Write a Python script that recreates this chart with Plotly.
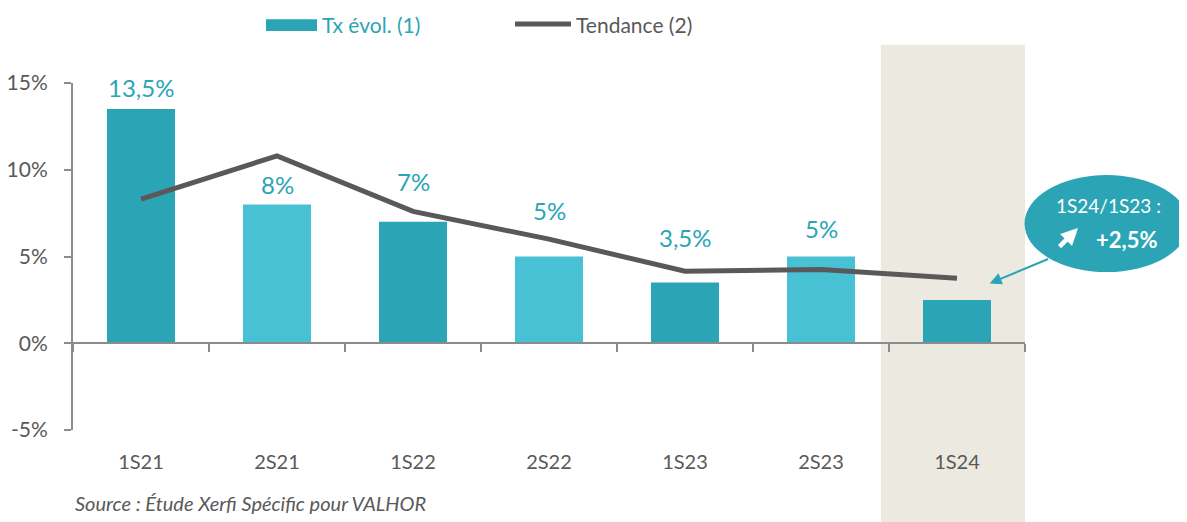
import plotly.graph_objects as go

categories = ["1S21", "2S21", "1S22", "2S22", "1S23", "2S23", "1S24"]
tx_evol = [13.5, 8, 7, 5, 3.5, 5, 2.5]
tendance = [8.3, 10.8, 7.6, 6.0, 4.15, 4.25, 3.75]
y_ticks = [-5, 0, 5, 10, 15]
y_ticktext = ["-5%", "0%", "5%", "10%", "15%"]

# styling (not data)
bar_colors = ["#2BA5B5", "#48C1D4", "#2BA5B5", "#48C1D4", "#2BA5B5", "#48C1D4", "#2BA5B5"]
label_offsets = [1.25, 1.16, 2.34, 2.67, 2.61, 1.63, None]  # label lift above bar (in % units)

TEAL = "#2BA5B5"
GRAY = "#595959"
AXIS = "#8C8C8C"
FONT = "Lato, 'Open Sans', sans-serif"

fig = go.Figure()
fig.add_trace(go.Bar(
    x=categories, y=tx_evol, name="Tx évol. (1)",
    marker=dict(color=bar_colors, line=dict(width=0)), width=0.5,
    xaxis="x", yaxis="y", showlegend=False,
))
fig.add_trace(go.Scatter(
    x=categories, y=tendance, name="Tendance (2)", mode="lines",
    line=dict(color=GRAY, width=5), xaxis="x2", yaxis="y", showlegend=False,
))

# bar value labels
for cat, v, off in zip(categories, tx_evol, label_offsets):
    if off is None:
        continue
    fig.add_annotation(x=cat, y=v + off, xref="x", yref="y", showarrow=False,
                       text=f"{v:g}".replace(".", ",") + "%", xanchor="center", yanchor="middle",
                       font=dict(color=TEAL, size=24, family=FONT))

fig.update_layout(
    width=1187, height=522,
    margin=dict(l=65, r=170, t=75, b=100, autoexpand=False),
    paper_bgcolor="white", plot_bgcolor="rgba(0,0,0,0)",
    font=dict(family=FONT, color=GRAY, size=20),
    showlegend=False,
    xaxis=dict(type="category", categoryarray=categories, range=[-0.5, 6.5],
               anchor="free", position=0.25,
               showline=True, linecolor=AXIS, linewidth=2, showgrid=False, zeroline=False,
               ticks="outside", ticklen=8, tickwidth=2, tickcolor=AXIS, tickson="boundaries",
               showticklabels=False, automargin=False),
    xaxis2=dict(type="category", categoryarray=categories, range=[-0.5, 6.5],
                overlaying="x", anchor="y", side="bottom",
                showline=False, showgrid=False, zeroline=False, ticks="",
                ticklabelstandoff=18, tickfont=dict(size=20, color=GRAY), automargin=False),
    yaxis=dict(range=[-5, 15], tickvals=y_ticks, ticktext=y_ticktext,
               showline=True, linecolor=AXIS, linewidth=2, showgrid=False, zeroline=False,
               ticks="outside", ticklen=7, tickwidth=2, tickcolor=AXIS,
               ticklabelstandoff=12, tickfont=dict(size=21, color=GRAY), automargin=False),
)

# highlighted period
fig.add_shape(type="rect", xref="x", yref="paper", x0=5.44, x1=6.53, y0=-0.3, y1=1.11,
              fillcolor="#ECEAE0", line=dict(width=0), layer="below")

# legend (drawn manually to match symbol shapes)
fig.add_shape(type="rect", xref="paper", yref="paper", x0=0.2027, x1=0.2563, y0=1.150, y1=1.184,
              fillcolor=TEAL, line=dict(width=0))
fig.add_annotation(xref="paper", yref="paper", x=0.2595, y=1.170, xanchor="left", yanchor="middle",
                   text="Tx évol. (1)", showarrow=False, font=dict(color=TEAL, size=21, family=FONT))
fig.add_shape(type="line", xref="paper", yref="paper", x0=0.4643, x1=0.5231, y0=1.170, y1=1.170,
              line=dict(color=GRAY, width=5))
fig.add_annotation(xref="paper", yref="paper", x=0.5263, y=1.170, xanchor="left", yanchor="middle",
                   text="Tendance (2)", showarrow=False, font=dict(color=GRAY, size=21, family=FONT))

# callout bubble
fig.add_shape(type="circle", xref="paper", yref="paper", x0=0.9995, x1=1.172, y0=0.455, y1=0.735,
              fillcolor=TEAL, line=dict(width=0), layer="above")
fig.add_annotation(xref="paper", yref="paper", x=1.088, y=0.648, text="1S24/1S23 :",
                   xanchor="center", yanchor="middle",
                   showarrow=False, font=dict(color="white", size=19, family=FONT))
fig.add_annotation(xref="paper", yref="paper", x=1.107, y=0.548, text="<b>+2,5%</b>",
                   xanchor="center", yanchor="middle",
                   showarrow=False, font=dict(color="white", size=22, family=FONT))
fig.add_annotation(xref="paper", yref="paper", x=1.0557, y=0.582, ax=-20, ay=20, text="",
                   showarrow=True, arrowhead=2, arrowsize=0.75, arrowwidth=4.5, arrowcolor="white")
fig.add_annotation(xref="x", yref="y", x=6.24, y=3.45, ax=60, ay=-25, text="",
                   showarrow=True, arrowhead=2, arrowsize=1.2, arrowwidth=2, arrowcolor=TEAL)

fig.add_annotation(xref="paper", yref="paper", x=0.0, y=-0.21, xanchor="left", yanchor="middle",
                   text="<i>Source : Étude Xerfi Spécific pour VALHOR</i>", showarrow=False,
                   font=dict(color=GRAY, size=20, family=FONT))

fig.write_html("out.html")
